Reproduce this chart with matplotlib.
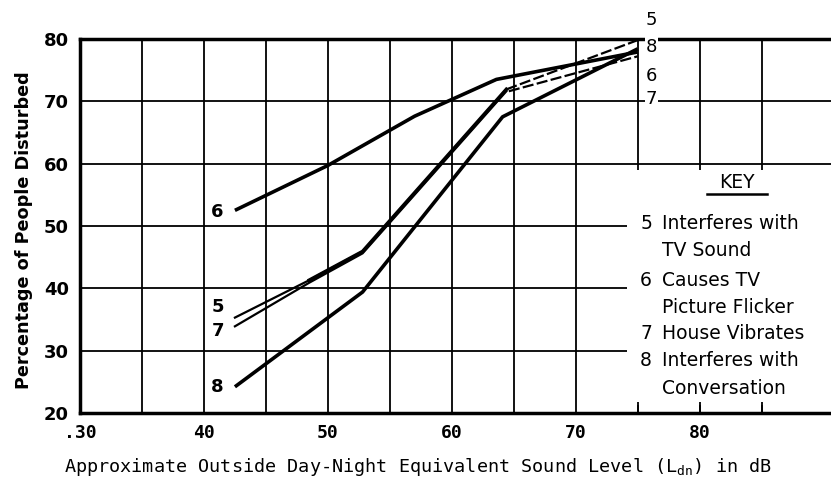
import numpy as np
import matplotlib.pyplot as plt
from matplotlib.patches import Rectangle

# curves (x = Ldn in dB, y = percent disturbed)
x5 = [42.5, 48.5, 52.8, 64.4]
y5 = [35.3, 41.3, 45.9, 71.9]
x5_top = [64.4, 75.0]
y5_top = [71.9, 79.8]
x7 = [42.5, 48.5, 52.8, 64.4]
y7 = [33.9, 40.9, 45.6, 71.6]
x7_top = [64.6, 75.0]
y7_top = [71.6, 77.2]
x6 = [42.5, 50.0, 57.0, 63.6, 75.0]
y6 = [52.5, 59.7, 67.6, 73.5, 77.9]
x8 = [42.5, 52.8, 64.1, 75.0]
y8 = [24.2, 39.4, 67.5, 78.4]

xticks = [30, 40, 50, 60, 70, 80]
xticklabels = [".30", "40", "50", "60", "70", "80"]
yticks = [20, 30, 40, 50, 60, 70, 80]

key_lines = [("5", "Interferes with"), (None, "TV Sound"),
             ("6", "Causes TV"), (None, "Picture Flicker"),
             ("7", "House Vibrates"), ("8", "Interferes with"),
             (None, "Conversation")]

fig = plt.figure(figsize=(8.31, 4.8), dpi=100)
ax = fig.add_axes([0.0963, 0.1396, 1 - 0.0963, 0.919 - 0.1396])
ax.set_xlim(30, 90.6)
ax.set_ylim(20, 80)

# grid
for gx in np.arange(35, 90, 5):
    ax.axvline(gx, color="k", lw=1.3, zorder=1)
for gy in range(30, 80, 10):
    ax.axhline(gy, color="k", lw=1.3, zorder=1)

# white area behind key
ax.add_patch(Rectangle((74.1, 21.8), 20, 37.2, facecolor="white",
                       edgecolor="none", zorder=2))

lw = 2.6
ax.plot(x6, y6, color="k", lw=lw, zorder=3, solid_capstyle="butt")
ax.plot(x8, y8, color="k", lw=lw, zorder=3, solid_capstyle="butt")
ax.plot(x5, y5, color="k", lw=1.6, zorder=3)
ax.plot(x7, y7, color="k", lw=1.6, zorder=3)
ax.plot(x5[1:], y5[1:], color="k", lw=lw, zorder=3)
ax.plot(x5_top, y5_top, color="k", lw=1.6, ls=(0, (5, 1.5)), zorder=3)
ax.plot(x7_top, y7_top, color="k", lw=1.6, ls=(0, (5, 1.5)), zorder=3)

lab = dict(fontsize=13, fontweight="bold", ha="center", va="center", zorder=4,
           bbox=dict(facecolor="white", edgecolor="none", pad=0.5))
ax.text(41.1, 52.3, "6", **lab)
ax.text(41.1, 37.0, "5", **lab)
ax.text(41.1, 33.2, "7", **lab)
ax.text(41.1, 24.2, "8", **lab)
rlab = dict(fontsize=13, ha="center", va="center", zorder=4,
            bbox=dict(facecolor="white", edgecolor="none", pad=0.5))
ax.text(76.1, 83.1, "5", clip_on=False, **rlab)
ax.text(76.1, 78.7, "8", **rlab)
ax.text(76.1, 74.0, "6", **rlab)
ax.text(76.1, 70.3, "7", **rlab)

# key
ax.text(83.0, 57.0, "KEY", fontsize=13.5, ha="center", va="center", zorder=4)
ax.plot([80.6, 85.4], [55.1, 55.1], color="k", lw=1.8, zorder=4)
key_y = [50.4, 46.1, 41.3, 36.9, 32.7, 28.4, 23.9]
for (num, txt), ky in zip(key_lines, key_y):
    if num is not None:
        ax.text(75.2, ky, num, fontsize=13.5, ha="left", va="center", zorder=4)
    ax.text(77.0, ky, txt, fontsize=13.5, ha="left", va="center", zorder=4)

# short gridline stubs at bottom of key
for gx in [75, 80, 85]:
    ax.plot([gx, gx], [20, 21.2], color="k", lw=1.3, zorder=4)

for side in ["left", "top", "bottom"]:
    ax.spines[side].set_linewidth(2.5)
ax.spines["right"].set_visible(False)

ax.set_xticks(xticks)
ax.set_xticklabels(xticklabels, fontfamily="DejaVu Sans Mono", fontsize=13,
                   fontweight="bold")
ax.set_yticks(yticks)
ax.set_yticklabels([str(v) for v in yticks], fontsize=13, fontweight="bold")
ax.tick_params(length=0, pad=8)
ax.set_xlabel("Approximate Outside Day-Night Equivalent Sound Level (L$_{\\mathtt{dn}}$) in dB",
              fontfamily="DejaVu Sans Mono", fontsize=13.3)
ax.xaxis.set_label_coords(0.45, -0.115)
ax.set_ylabel("Percentage of People Disturbed", fontsize=12.7, fontweight="bold")
ax.yaxis.set_label_coords(-0.063, 0.489)

fig.savefig("out.png", dpi=100)
